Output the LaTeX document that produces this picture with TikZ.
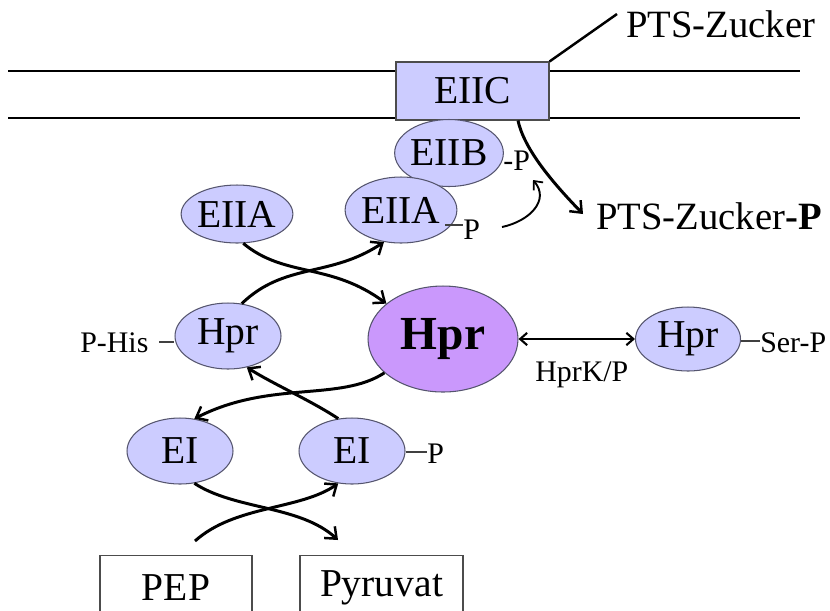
\documentclass[tikz,border=0pt]{standalone}
\usepackage{fontspec}
\setmainfont{Liberation Serif}
\usetikzlibrary{arrows.meta,shapes.geometric}
\definecolor{enz}{RGB}{204,204,255}
\definecolor{hprc}{RGB}{202,152,252}
\definecolor{rim}{RGB}{85,85,110}
\begin{document}
\begin{tikzpicture}[x=0.02cm,y=-0.02cm,
  enzyme/.style={ellipse,draw=rim,line width=0.6pt,fill=enz,inner sep=0pt,font=\fontsize{22.5}{24}\selectfont},
  flow/.style={line width=1.7pt,-{Straight Barb[length=5.5pt,width=9pt,line width=1.4pt]}},
  lbl/.style={font=\fontsize{17}{19}\selectfont,inner sep=0pt,anchor=base west},
  lblbig/.style={font=\fontsize{22}{24}\selectfont,inner sep=0pt,anchor=base west},
  tick/.style={line width=0.6pt,draw=black!75},
  subst/.style={draw=black!70,line width=0.6pt,inner sep=0pt,font=\fontsize{22.5}{24}\selectfont}
]
\useasboundingbox (0,0) rectangle (830,610);
\clip (0,0) rectangle (830,610);

% membrane
\draw[line width=0.6pt] (8,71) -- (800,71) (8,118) -- (800,118);

% nodes
\node[subst,fill=enz,minimum width=3.06cm,minimum height=1.16cm] (eiic) at (472.5,91) {EIIC};
\node[enzyme,minimum width=2.1cm,minimum height=1.34cm] (eiib) at (449,153) {EIIB};
\node[enzyme,minimum width=2.16cm,minimum height=1.32cm] (eiiaR) at (401,210) {EIIA};
\node[enzyme,minimum width=2.12cm,minimum height=1.16cm] (eiiaL) at (237,214) {EIIA};
\node[enzyme,minimum width=2.12cm,minimum height=1.32cm] (hprS) at (228,336) {Hpr};
\node[enzyme,fill=hprc,minimum width=3.0cm,minimum height=2.12cm,font=\fontsize{27}{29}\selectfont\bfseries] (hprB) at (443,339) {Hpr};
\node[enzyme,minimum width=2.1cm,minimum height=1.28cm] (hprR) at (688,339) {Hpr};
\node[enzyme,minimum width=2.12cm,minimum height=1.32cm] (eiL) at (180,451) {EI};
\node[enzyme,minimum width=2.12cm,minimum height=1.32cm] (eiR) at (352,451) {EI};
\node[subst,minimum width=3.04cm,minimum height=1.3cm] (pep) at (176,588) {PEP};
\node[subst,minimum width=3.26cm,minimum height=1.3cm] (pyr) at (381.5,588) {Pyruvat};

% labels
\node[lblbig] (pts) at (626,37) {PTS-Zucker};
\node[lblbig] (ptsP) at (596,229) {PTS-Zucker\textbf{-P}};
\node[lbl] (pB) at (503,170) {-P};
\node[lbl] (pA) at (463,239) {P};
\node[lbl] (phis) at (80,352) {P-His};
\node[lbl] (serp) at (760,352) {Ser-P};
\node[lbl] (hprk) at (535,381) {HprK/P};
\node[lbl] (pE) at (427,463) {P};

% small dashes
\draw[tick] (445,225) -- (pA.west |- 0,225);
\draw[tick] (159,342) -- (hprS.west |- 0,342);
\draw[tick] (hprR.east |- 0,341) -- (serp.west |- 0,341);
\draw[tick] (eiR.east |- 0,452) -- (pE.west |- 0,452);

% coordinates for free ends
\coordinate (ptsIn) at (617,14);
\coordinate (pyrIn) at (338,540);
\coordinate (pepOut) at (195,541);
\coordinate (hookS) at (502,227);
\coordinate (hookE) at (533,180);
\coordinate (zpIn) at (583,214);

% EIIC to sugar
\draw[line width=1.4pt] (eiic.north east) -- (ptsIn);
\draw[flow] (eiic.-33) .. controls (524,148) and (550,180) .. (zpIn);
\draw[line width=1.1pt,-{Straight Barb[length=4pt,width=7pt,line width=1pt]}] (hookS) .. controls (530,221) and (550,200) .. (hookE);

% upper crossing
\draw[flow] (eiiaL.-78) .. controls (285,278) and (330,262) .. (hprB.148);
\draw[flow] (hprS.67) .. controls (285,262) and (330,278) .. (eiiaR.-118);

% middle
\draw[flow] (hprB.210) .. controls (340,402) and (270,380) .. (eiL.66);
\draw[flow] (eiR.113) .. controls (310,400) and (275,385) .. (hprS.-59);

% lower crossing
\draw[flow] (eiL.-66) .. controls (235,510) and (300,505) .. (pyrIn);
\draw[flow] (pepOut) .. controls (235,505) and (300,510) .. (eiR.-113);

% HprK/P
\draw[line width=1.5pt,{Straight Barb[length=4pt,width=7pt,line width=1.2pt]}-{Straight Barb[length=4pt,width=7pt,line width=1.2pt]}] (hprB.east) -- (hprR.west);
\end{tikzpicture}
\end{document}
